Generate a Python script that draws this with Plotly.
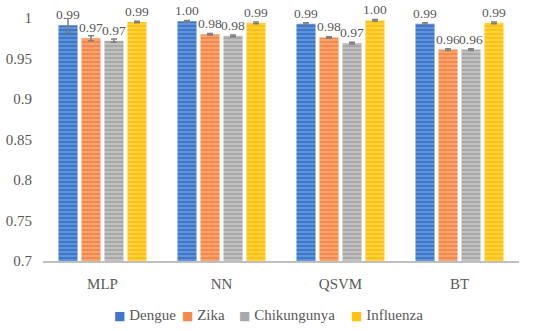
import plotly.graph_objects as go

categories = ["MLP", "NN", "QSVM", "BT"]
series_names = ["Dengue", "Zika", "Chikungunya", "Influenza"]
dengue = [0.991, 0.996, 0.993, 0.993]
zika = [0.975, 0.980, 0.976, 0.961]
chik = [0.972, 0.978, 0.969, 0.961]
influenza = [0.995, 0.994, 0.997, 0.994]
dengue_err = [0.009, 0.001, 0.001, 0.001]
zika_err = [0.003, 0.001, 0.001, 0.001]
chik_err = [0.002, 0.001, 0.001, 0.001]
influenza_err = [0.001, 0.001, 0.001, 0.001]
tick_vals = [0.7, 0.75, 0.8, 0.85, 0.9, 0.95, 1.0]
tick_text = ["0.7", "0.75", "0.8", "0.85", "0.9", "0.95", "1"]

values = [dengue, zika, chik, influenza]
errors = [dengue_err, zika_err, chik_err, influenza_err]
colors = ["#3d78cc", "#f5894a", "#a9a9a9", "#ffc20e"]
stripe = ["#8fb4e8", "#fbc3a0", "#dcdcdc", "#ffe27a"]
# legend item left positions (paper fraction of the plot width)
legend_x = [0.145, 0.288, 0.408, 0.643]
legend_y = -0.222

font_family = "'Liberation Serif', 'DejaVu Serif', serif"
fig = go.Figure()
for name, v, e, c, s in zip(series_names, values, errors, colors, stripe):
    fig.add_trace(go.Bar(
        x=categories, y=v, name=name, showlegend=False,
        marker=dict(color=c, line=dict(width=0),
                    pattern=dict(shape="-", fgcolor=s, bgcolor=c, size=4, solidity=0.45, fillmode="overlay")),
        error_y=dict(type="data", array=e, color="#7f7f7f", thickness=1.5, width=3),
        text=[f"{x:.2f}" for x in v], textposition="outside", cliponaxis=False,
        constraintext="none",
        textfont=dict(family=font_family, size=13.5, color="#595959"),
    ))

annotations = []
for name, c, lx in zip(series_names, colors, legend_x):
    annotations.append(dict(
        x=lx, y=legend_y, xref="paper", yref="paper", xanchor="left", yanchor="middle",
        showarrow=False, align="left",
        text=(f"<span style='color:{c};font-size:12px;font-family:DejaVu Sans'>■&#160;</span>"
              f"{name}"),
        font=dict(family=font_family, size=15, color="#595959"),
    ))

fig.update_layout(
    width=550, height=331,
    margin=dict(l=43, r=31, t=18, b=70, autoexpand=False),
    paper_bgcolor="white", plot_bgcolor="white",
    barmode="group", bargap=0.227, bargroupgap=0.17,
    font=dict(family=font_family, size=15, color="#595959"),
    showlegend=False,
    annotations=annotations,
    yaxis=dict(range=[0.7, 1.0], tickvals=tick_vals, ticktext=tick_text,
               showgrid=False, zeroline=False, showline=False, ticks="",
               tickfont=dict(family=font_family, size=15, color="#595959"), ticklabelstandoff=10),
    xaxis=dict(showline=True, linecolor="#bfbfbf", linewidth=2, ticks="",
               tickfont=dict(family=font_family, size=15, color="#595959"), ticklabelstandoff=8),
)

fig.write_html("out.html", config={"displayModeBar": False},
               post_script="document.body.style.margin='0';document.body.style.padding='0';")
